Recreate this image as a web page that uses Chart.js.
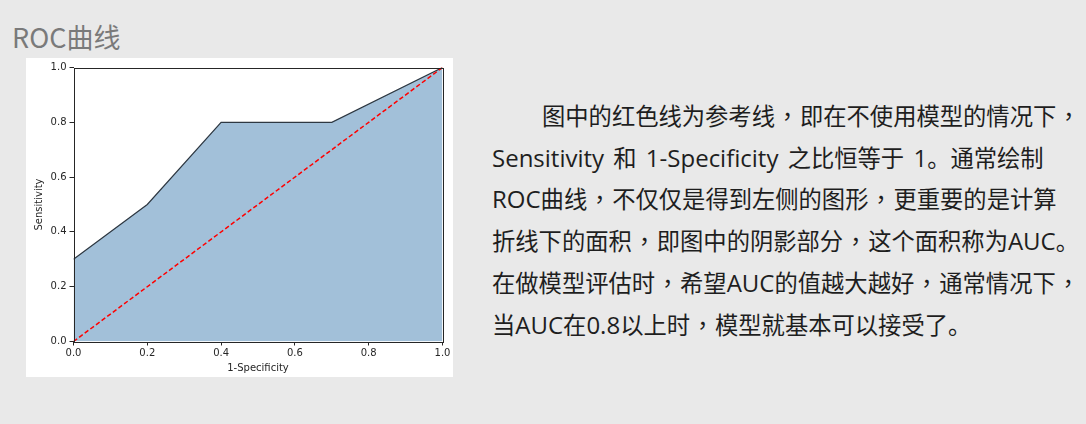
<!DOCTYPE html>
<html>
<head>
<meta charset="utf-8">
<script src="https://cdn.jsdelivr.net/npm/chart.js@4.4.1/dist/chart.umd.min.js"></script>
<style>
  html, body { margin: 0; padding: 0; }
  body { width: 1086px; height: 424px; background: #e9e9e9; position: relative; overflow: hidden;
         font-family: "Noto Sans CJK SC", "Noto Sans", sans-serif; }
  #title { position: absolute; left: 12px; top: 23px; font-size: 27px; line-height: 27px; color: #7a7a7a; white-space: nowrap; }
  #panel { position: absolute; left: 26px; top: 58px; width: 427px; height: 319px; background: #ffffff; }
  #panel canvas { display: block; }
  #desc { position: absolute; left: 492px; top: 95px; font-size: 23.3px; line-height: 41.7px; color: #1e1e1e; }
  #desc div { white-space: nowrap; }
  #desc div.first { text-indent: 50px; }
  #desc .lat { font-family: "Open Sans", "Noto Sans", sans-serif; font-size: 24px; word-spacing: 3px; }
  #desc .cm { font-family: "Noto Sans CJK TC", "Noto Sans CJK SC", sans-serif; display: inline-block; width: 25px; text-align: center; text-indent: 0; }
</style>
</head>
<body>
<div id="title">ROC曲线</div>
<div id="panel"><canvas id="c" width="427" height="319"></canvas></div>
<div id="desc"></div>
<script>
// ---- data ----
const fprValues = [0.0, 0.2, 0.4, 0.7, 1.0];
const tprValues = [0.3, 0.5, 0.8, 0.8, 1.0];
const refX = [0.0, 1.0];
const refY = [0.0, 1.0];
const tickValues = [0.0, 0.2, 0.4, 0.6, 0.8, 1.0];
const xTitle = '1-Specificity';
const yTitle = 'Sensitivity';
const descLines = [
  '图中的红色线为参考线，即在不使用模型的情况下，',
  'Sensitivity 和 1-Specificity 之比恒等于 1。通常绘制',
  'ROC曲线，不仅仅是得到左侧的图形，更重要的是计算',
  '折线下的面积，即图中的阴影部分，这个面积称为AUC。',
  '在做模型评估时，希望AUC的值越大越好，通常情况下，',
  '当AUC在0.8以上时，模型就基本可以接受了。'
];

// build description lines: Latin runs and commas get their own spans
const desc = document.getElementById('desc');
descLines.forEach((t, li) => {
  const d = document.createElement('div');
  if (li === 0) d.className = 'first';
  let buf = '', bufLat = null;
  const flush = () => {
    if (!buf) return;
    if (bufLat) { const s = document.createElement('span'); s.className = 'lat'; s.textContent = buf; d.appendChild(s); }
    else d.appendChild(document.createTextNode(buf));
    buf = '';
  };
  for (const ch of t) {
    if (ch === '，') { flush(); const s = document.createElement('span'); s.className = 'cm'; s.textContent = ch; d.appendChild(s); bufLat = null; continue; }
    const lat = ch.charCodeAt(0) < 128;
    if (bufLat !== null && lat !== bufLat) flush();
    bufLat = lat; buf += ch;
  }
  flush();
  desc.appendChild(d);
});

const rocPoints = fprValues.map((x, i) => ({ x: x, y: tprValues[i] }));
const refPoints = refX.map((x, i) => ({ x: x, y: refY[i] }));

const frame = {
  id: 'frame',
  afterDatasetsDraw(chart) {
    const a = chart.chartArea, ctx = chart.ctx;
    ctx.save();
    ctx.strokeStyle = '#262626';
    ctx.lineWidth = 1;
    ctx.strokeRect(Math.round(a.left) + 0.5, Math.round(a.top) + 0.5,
                   Math.round(a.right) - Math.round(a.left), Math.round(a.bottom) - Math.round(a.top));
    ctx.restore();
  }
};

const tickFont = { family: '"DejaVu Sans", sans-serif', size: 10 };

new Chart(document.getElementById('c'), {
  type: 'line',
  data: {
    datasets: [
      { data: refPoints, borderColor: '#ff0000', borderWidth: 1.5, borderDash: [4.5, 2.5],
        pointRadius: 0, fill: false, tension: 0, order: 0 },
      { data: rocPoints, borderColor: '#2e3842', borderWidth: 1.2, backgroundColor: 'rgba(70,130,180,0.5)',
        pointRadius: 0, fill: 'origin', tension: 0, order: 1 }
    ]
  },
  options: {
    responsive: false,
    animation: false,
    devicePixelRatio: 1,
    layout: { padding: { left: 0, right: 10.5, top: 9.5, bottom: 0 } },
    plugins: { legend: { display: false }, tooltip: { enabled: false } },
    scales: {
      x: {
        type: 'linear', min: 0, max: 1,
        afterFit(s) { s.height = 35.5; },
        afterBuildTicks(s) { s.ticks = tickValues.map(v => ({ value: v })); },
        ticks: { callback: v => Number(v).toFixed(1), font: tickFont, color: '#262626', padding: 2, maxRotation: 0, autoSkip: false },
        grid: { drawOnChartArea: false, drawTicks: true, tickLength: 4, color: '#262626' },
        border: { display: false },
        title: { display: true, text: xTitle, font: tickFont, color: '#262626', padding: { top: 2, bottom: 3 } }
      },
      y: {
        type: 'linear', min: 0, max: 1,
        afterFit(s) { s.width = 47.5; },
        afterBuildTicks(s) { s.ticks = tickValues.map(v => ({ value: v })); },
        ticks: { callback: v => Number(v).toFixed(1), font: tickFont, color: '#262626', padding: 3, autoSkip: false },
        grid: { drawOnChartArea: false, drawTicks: true, tickLength: 4, color: '#262626' },
        border: { display: false },
        title: { display: true, text: yTitle, font: tickFont, color: '#262626', padding: { top: 7, bottom: 7 } }
      }
    }
  },
  plugins: [frame]
});
</script>
</body>
</html>
